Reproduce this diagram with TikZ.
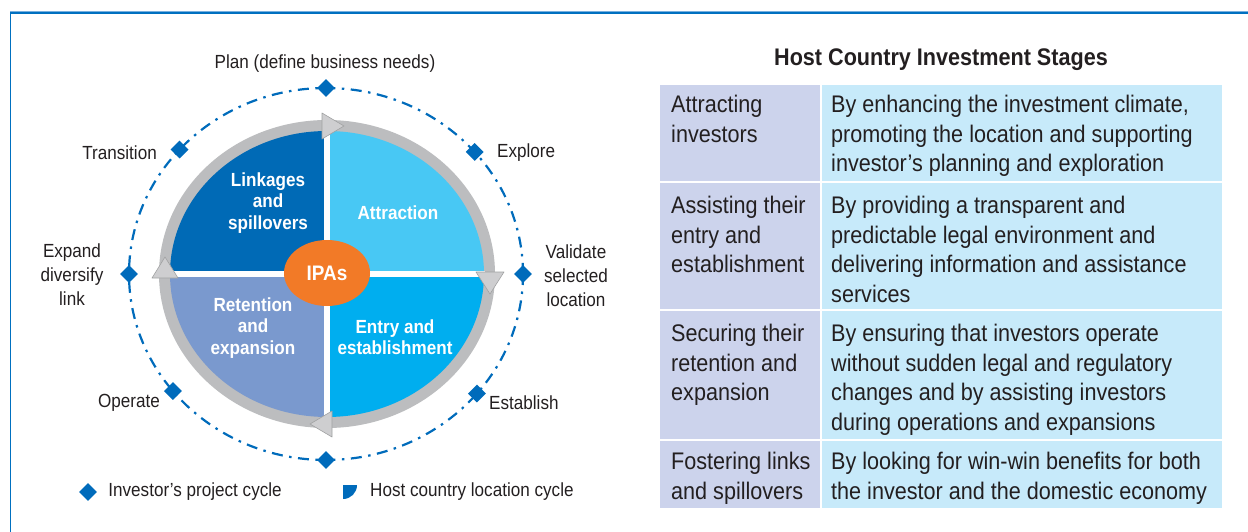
\documentclass[tikz,border=0pt]{standalone}
\usepackage{fontspec}
\setmainfont{Liberation Sans}[FakeStretch=0.9]
\usetikzlibrary{shapes.geometric,positioning}

\definecolor{inkc}{RGB}{35,31,32}
\definecolor{framec}{RGB}{0,112,192}
\definecolor{framelt}{RGB}{120,175,222}
\definecolor{cyclec}{RGB}{0,107,187}
\definecolor{linkc}{RGB}{0,106,182}
\definecolor{attrc}{RGB}{72,200,244}
\definecolor{entryc}{RGB}{0,174,239}
\definecolor{retc}{RGB}{122,153,206}
\definecolor{ringc}{RGB}{188,189,191}
\definecolor{arrc}{RGB}{206,206,208}
\definecolor{ipac}{RGB}{242,122,39}
\definecolor{stagec}{RGB}{204,211,236}
\definecolor{howc}{RGB}{199,234,250}

\tikzset{
  lbl/.style={font=\fontsize{19}{24}\selectfont, text=inkc, align=center, inner sep=0pt},
  quad/.style={font=\fontsize{19}{21.5}\selectfont\bfseries, text=white, align=center, inner sep=0pt},
  ipcdot/.style={diamond, fill=cyclec, inner sep=0pt, minimum width=18pt, minimum height=18pt},
  cell/.style={font=\fontsize{24}{29.5}\selectfont, text=inkc, align=left, anchor=north west, inner sep=0pt},
  ringtip/.style={fill=arrc, draw=ringc!85!black, line width=0.6pt, line join=round},
}

\begin{document}
\begin{tikzpicture}[x=1pt,y=-1pt]
\useasboundingbox (0,0) rectangle (1248,532);

% box frame
\draw[framelt, line width=1.2] (10,11.5) -- (1248,11.5);
\draw[framec, line width=1.6] (10.5,13) -- (1248,13);
\draw[framec, line width=1.6] (10.5,12.5) -- (10.5,532);

% investor's project cycle
\coordinate (orb) at (326,274);
\draw[cyclec, line width=2.2, dash pattern=on 11pt off 6.5pt on 2.5pt off 6.5pt] (orb) ellipse [x radius=197, y radius=186];

% host country location cycle
\coordinate (ctr) at (327,274);
\fill[ringc] (ctr) ellipse [x radius=168, y radius=154];
\foreach \dx/\dy/\c in {1/-1/attrc, 1/1/entryc, -1/1/retc, -1/-1/linkc}{
  \begin{scope}
    \clip (ctr) rectangle ++({172*\dx},{160*\dy});
    \fill[\c] (ctr) ellipse [x radius=157, y radius=143];
  \end{scope}
}
\draw[white, line width=6] ([xshift=-158pt]ctr) -- ([xshift=158pt]ctr);
\draw[white, line width=6] ([yshift=144pt]ctr) -- ([yshift=-144pt]ctr);

% arrow tips on the ring
\draw[ringtip] (322,113) -- (322,139) -- (344,126) -- cycle;
\draw[ringtip] (476,272) -- (504,272) -- (490,294) -- cycle;
\draw[ringtip] (332,411) -- (332,437) -- (310,424) -- cycle;
\draw[ringtip] (152,278) -- (178,278) -- (165,257) -- cycle;

\node[ellipse, fill=ipac, minimum width=86pt, minimum height=66pt, inner sep=0pt,
      text=white, font=\fontsize{21}{21}\selectfont\bfseries] (ipas) at (327,273) {IPAs};

\node[quad] (linkages) at (268,203) {Linkages\\and\\spillovers};
\node[quad] (attraction) at (398,213) {Attraction};
\node[quad] (retention) at (253,328) {Retention\\and\\expansion};
\node[quad] (entry) at (395,337) {Entry and\\establishment};

% markers on the project cycle
\begin{scope}[shift={(326,274)}]
\foreach \a/\n in {90/plan, 40/explore, 0/validate, -41/establish, -90/handover, -138/operate, 180/expand, 141/transition}
  \node[ipcdot] (d\n) at (\a:197 and 186) {};
\end{scope}

\node[lbl] (plan) at (325,64) {Plan (define business needs)};
\node[lbl, anchor=east] (transition) at (157,153) {Transition};
\node[lbl, anchor=west] (explore) at (497,153) {Explore};
\node[lbl] (expand) at (72,275) {Expand\\diversify\\link};
\node[lbl] (validate) at (576,276) {Validate\\selected\\location};
\node[lbl, anchor=east] (operate) at (160,403) {Operate};
\node[lbl, anchor=west] (establish) at (489,403) {Establish};

% legend
\node[ipcdot] (keydot) at (88,492) {};
\node[lbl, anchor=west, right=11pt of keydot] (keyproject) {Investor’s project cycle};
\fill[cyclec] (343,485) -- (357,485) arc [start angle=0, end angle=90, radius=14] -- cycle;
\node[lbl, anchor=west] (keyhost) at (370,492) {Host country location cycle};

% stages table
\node[font=\fontsize{24}{24}\selectfont\bfseries, text=inkc, inner sep=0pt] (title) at (941,60) {Host Country Investment Stages};
\foreach \t/\b in {85/181, 183/309, 311/439, 441/508}{
  \fill[stagec] (660,\t) rectangle (820,\b);
  \fill[howc] (822,\t) rectangle (1222,\b);
}
\node[cell] (s1) at (671,95) {Attracting\\investors};
\node[cell] (h1) at (831,95) {By enhancing the investment climate,\\promoting the location and supporting\\investor’s planning and exploration};
\node[cell] (s2) at (671,196) {Assisting their\\entry and\\establishment};
\node[cell] (h2) at (831,196) {By providing a transparent and\\predictable legal environment and\\delivering information and assistance\\services};
\node[cell] (s3) at (671,324) {Securing their\\retention and\\expansion};
\node[cell] (h3) at (831,324) {By ensuring that investors operate\\without sudden legal and regulatory\\changes and by assisting investors\\during operations and expansions};
\node[cell] (s4) at (671,452) {Fostering links\\and spillovers};
\node[cell] (h4) at (831,452) {By looking for win-win benefits for both\\the investor and the domestic economy};
\end{tikzpicture}
\end{document}
